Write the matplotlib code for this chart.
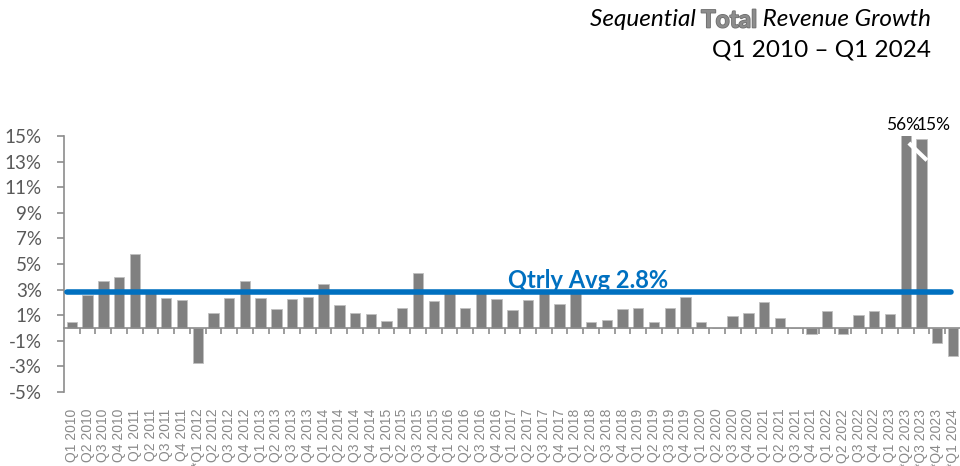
import matplotlib
matplotlib.use("Agg")
import matplotlib.pyplot as plt
import matplotlib.patheffects as pe
import numpy as np

# data (% sequential growth)
years = list(range(2010, 2025))
quarters = [f"Q{q} {y}" for y in years for q in range(1, 5)][:57]
starred = ["Q1 2012", "Q2 2023", "Q3 2023", "Q4 2023", "Q1 2024"]
growth = [0.43, 2.6, 3.7, 4.0, 5.75, 2.8, 2.37, 2.2,
          -2.74, 1.2, 2.37, 3.7, 2.37, 1.5, 2.27, 2.4,
          3.4, 1.83, 1.15, 1.1, 0.53, 1.6, 4.26, 2.1,
          2.9, 1.55, 2.8, 2.24, 1.38, 2.2, 2.9, 1.85,
          2.8, 0.48, 0.66, 1.46, 1.6, 0.5, 1.6, 2.45,
          0.45, 0.0, 0.92, 1.15, 2.0, 0.76, 0.0, -0.43,
          1.33, -0.43, 1.0, 1.31, 1.13, 56.0, 14.8, -1.18,
          -2.17]
qtrly_avg = 2.8
y_ticks = list(range(-5, 16, 2))
ymin, ymax = -5, 15

gray_txt = "#595959"
axis_col = "#8C8C8C"
blue = "#0070C0"
font = "Lato"

fig = plt.figure(figsize=(9.6, 4.66), dpi=100)
ax = fig.add_axes([64 / 960, 1 - 392 / 466, 896 / 960, 256 / 466])

x = np.arange(len(growth))
labels = [("*" + q) if q in starred else q for q in quarters]
ax.bar(x, growth, width=0.66, color="#808080", edgecolor="#C0C0C0", linewidth=0.6, zorder=2)

ax.set_xlim(-0.5, len(growth) - 0.55)
ax.set_ylim(ymin, ymax)

# y axis
ax.set_yticks(y_ticks)
ax.set_yticklabels([f"{v}%" for v in y_ticks], fontsize=13.5, color=gray_txt, family=font)
ax.tick_params(axis="y", direction="out", length=5, width=1.2, color=axis_col, pad=11)

# x axis line sits at zero, tick marks between categories
for s in ["top", "right"]:
    ax.spines[s].set_visible(False)
ax.spines["left"].set_color(axis_col)
ax.spines["left"].set_linewidth(1.2)
ax.spines["bottom"].set_position(("data", 0))
ax.spines["bottom"].set_color(axis_col)
ax.spines["bottom"].set_linewidth(1.2)
ax.set_xticks(x[:-1] + 0.5)
ax.set_xticklabels([])
ax.tick_params(axis="x", direction="out", length=4, width=1.2, color=axis_col)

# category labels at the bottom
sec = ax.secondary_xaxis(0)
sec.set_xticks(x)
sec.set_xticklabels(labels, rotation=90, fontsize=10, color="#8a8a8a",
                    family="Liberation Sans", va="top", ha="center")
sec.tick_params(length=0, pad=12)
sec.spines["bottom"].set_visible(False)

# average line
ax.hlines(qtrly_avg, -0.3, len(growth) - 1.1, color=blue, linewidth=4,
          capstyle="round", zorder=3)
ax.text(32.8, qtrly_avg + 0.35, f"Qtrly Avg {qtrly_avg}%", color=blue, fontsize=17,
        fontweight="bold", family=font, ha="center", va="baseline", zorder=4)

# values that run off the top
big = [i for i, v in enumerate(growth) if v > ymax - 0.5]
offsets = [-2, 9]
for k, i in enumerate(big):
    ax.annotate(f"{growth[i]:.0f}%", (i, ymax), xytext=(offsets[k % 2], 2),
                textcoords="offset points", ha="center", va="bottom",
                fontsize=12.5, family=font, color="black", annotation_clip=False)
# break mark across the clipped bars
if len(big) == 2:
    ax.plot([big[0] + 0.2, big[1] + 0.35], [ymax - 0.55, ymax - 1.9], color="white",
            linewidth=3, solid_capstyle="butt", zorder=3, clip_on=False)

# title, right aligned, with "Total" set apart in gray
fig.canvas.draw()
r = fig.canvas.get_renderer()
xr, y1 = 931 / 960, 1 - 20 / 466
tsize = 17.5
t3 = fig.text(xr, y1, " Revenue Growth", ha="right", va="center", fontsize=tsize,
              style="italic", family=font)
bb = t3.get_window_extent(r)
t2 = fig.text(bb.x0 / fig.bbox.width, y1, "Total", ha="right", va="center", fontsize=tsize,
              fontweight="bold", color="#8c8c8c", family=font,
              path_effects=[pe.withStroke(linewidth=1.2, foreground="#6e6e6e")])
bb = t2.get_window_extent(r)
fig.text(bb.x0 / fig.bbox.width, y1, "Sequential ", ha="right", va="center", fontsize=tsize,
         style="italic", family=font)
fig.text(xr, 1 - 50 / 466, "Q1 2010 \u2013 Q1 2024", ha="right", va="center",
         fontsize=tsize, family=font)

fig.savefig("out.png", dpi=100)
